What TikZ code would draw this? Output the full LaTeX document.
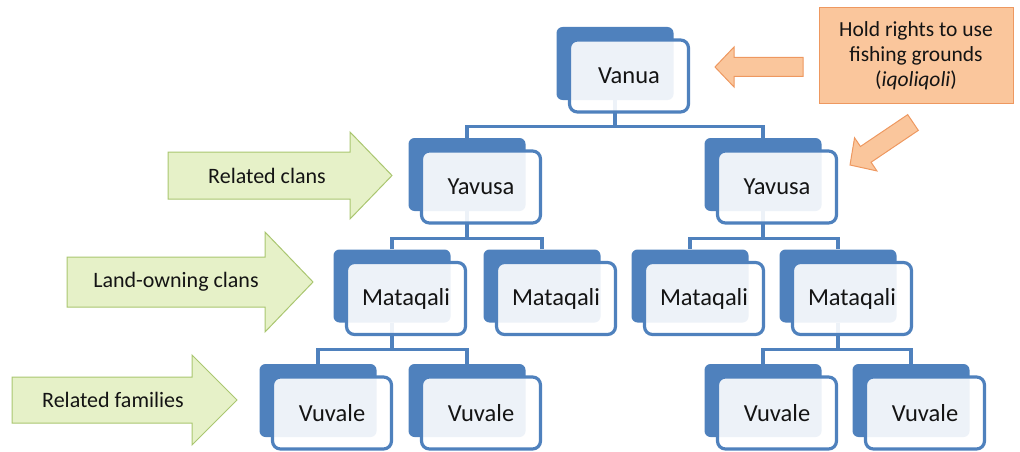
\documentclass[tikz,border=0pt]{standalone}
\usepackage{fontspec}
\setmainfont{Carlito}
\usetikzlibrary{calc}

\definecolor{boxblue}{RGB}{79,129,189}
\definecolor{leafgreen}{RGB}{230,241,200}
\definecolor{leafedge}{RGB}{170,198,112}
\definecolor{peach}{RGB}{250,198,156}
\definecolor{peachedge}{RGB}{238,152,96}

\tikzset{
	backbox/.style={rectangle, rounded corners=6pt, fill=boxblue,
		minimum width=117pt, minimum height=73pt},
	frontbox/.style={rectangle, rounded corners=8pt, draw=boxblue, line width=3.2pt,
		fill=white, fill opacity=0.9, text opacity=1, text=black!92,
		minimum width=119pt, minimum height=72pt,
		font=\fontsize{24.5}{28}\selectfont},
	tie/.style={draw=boxblue, line width=3.4pt},
	greenarrow/.style={fill=leafgreen, draw=leafedge, line width=1pt, line join=miter},
	orangearrow/.style={fill=peach, draw=peachedge, line width=1pt, line join=miter},
	armtext/.style={text=black!92, font=\fontsize{22}{26}\selectfont},
	notebox/.style={rectangle, fill=peach, draw=peachedge, line width=1pt,
		minimum width=194pt, minimum height=95pt, align=center,
		text=black!92, font=\fontsize{21.5}{25}\selectfont}
}

\begin{document}
\begin{tikzpicture}[x=1pt,y=-1pt]
	\useasboundingbox (0,0) rectangle (1020,452);

	% back plates
	\foreach \name/\x/\y in {vanua/615/63.5,
		yavusaL/467/174.5, yavusaR/763/174.5,
		mataqaliA/392/286, mataqaliB/542/286, mataqaliC/690/286, mataqaliD/838/286,
		vuvaleA/318/400.5, vuvaleB/467/400.5, vuvaleC/763/400.5, vuvaleD/911/400.5}
	\node[backbox] (\name B) at (\x,\y) {};

	% ties
	\draw[tie] (vanuaB.south) -- ++(0,26) -| (yavusaLB.north);
	\draw[tie] (vanuaB.south) -- ++(0,26) -| (yavusaRB.north);
	\draw[tie] (yavusaLB.south) -- ++(0,27) -| (mataqaliAB.north);
	\draw[tie] (yavusaLB.south) -- ++(0,27) -| (mataqaliBB.north);
	\draw[tie] (yavusaRB.south) -- ++(0,27) -| (mataqaliCB.north);
	\draw[tie] (yavusaRB.south) -- ++(0,27) -| (mataqaliDB.north);
	\draw[tie] (mataqaliAB.south) -- ++(0,27) -| (vuvaleAB.north);
	\draw[tie] (mataqaliAB.south) -- ++(0,27) -| (vuvaleBB.north);
	\draw[tie] (mataqaliDB.south) -- ++(0,27) -| (vuvaleCB.north);
	\draw[tie] (mataqaliDB.south) -- ++(0,27) -| (vuvaleDB.north);

	% front boxes
	\foreach \name/\txt in {vanua/Vanua, yavusaL/Yavusa, yavusaR/Yavusa,
		mataqaliA/Mataqali, mataqaliB/Mataqali, mataqaliC/Mataqali, mataqaliD/Mataqali,
		vuvaleA/Vuvale, vuvaleB/Vuvale, vuvaleC/Vuvale, vuvaleD/Vuvale}
	\node[frontbox] (\name) at ([shift={(14,12.5)}]\name B.center) {\txt};

	% green arrows
	\draw[greenarrow] (168,152) -- (350,152) -- (350,132) -- (392,175.5)
		-- (350,219) -- (350,199) -- (168,199) -- cycle;
	\node[armtext] (clans) at (267,175.5) {Related clans};
	\draw[greenarrow] (67,257) -- (265,257) -- (265,232) -- (313,282)
		-- (265,332) -- (265,307) -- (67,307) -- cycle;
	\node[armtext] (landclans) at (176,282) {Land-owning clans};
	\draw[greenarrow] (12,377) -- (192,377) -- (192,355) -- (237,400)
		-- (192,445) -- (192,423) -- (12,423) -- cycle;
	\node[armtext] (families) at (113,400) {Related families};

	% fishing rights
	\node[notebox] (rights) at (916,55.5) {Hold rights to use\\fishing grounds\\(\textit{iqoliqoli})};
	\draw[orangearrow] (803,57.5) -- (734,57.5) -- (734,47) -- (715,67)
		-- (734,87) -- (734,76.5) -- (803,76.5) -- cycle;
	\begin{scope}[shift={(850,165)}, rotate=34]
		\draw[orangearrow] (76,-9.5) -- (19,-9.5) -- (19,-20) -- (0,0)
			-- (19,20) -- (19,9.5) -- (76,9.5) -- cycle;
	\end{scope}
\end{tikzpicture}
\end{document}
